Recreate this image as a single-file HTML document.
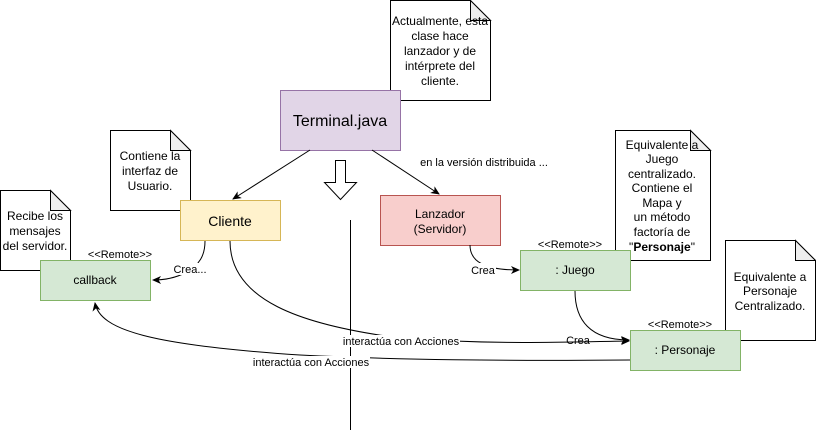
<!DOCTYPE html>
<html><head><meta charset="utf-8"><style>
body{margin:0;width:816px;height:433px;background:#fff;overflow:hidden;font-family:"Liberation Sans",sans-serif;}
</style></head><body>
<svg width="816" height="433" xmlns="http://www.w3.org/2000/svg" font-family="Liberation Sans, sans-serif">
<defs><marker id="a" markerWidth="10" markerHeight="10" refX="8" refY="4" orient="auto" markerUnits="userSpaceOnUse"><path d="M0,0 L9,4 L0,8 L2.5,4 Z" fill="#000"/></marker></defs>
<!-- notes -->
<g fill="#fff" stroke="#000" stroke-width="1">
<path d="M390.5,0.5 H470.5 L490.5,20.5 V100.5 H390.5 Z"/>
<path d="M110.5,130.5 H170.5 L190.5,150.5 V210.5 H110.5 Z"/>
<path d="M0.5,190.5 H50.5 L70.5,210.5 V270.5 H0.5 Z"/>
<path d="M615.5,130.5 H690.5 L710.5,150.5 V260.5 H615.5 Z"/>
<path d="M725.5,240.5 H795.5 L815.5,260.5 V340.5 H725.5 Z"/>
</g>
<g fill="#eee" stroke="#000">
<path d="M470.5,0.5 V20.5 H490.5 Z"/><path d="M170.5,130.5 V150.5 H190.5 Z"/><path d="M50.5,190.5 V210.5 H70.5 Z"/><path d="M690.5,130.5 V150.5 H710.5 Z"/><path d="M795.5,240.5 V260.5 H815.5 Z"/>
</g>
<g font-size="12" text-anchor="middle" fill="#000">
<text x="440" y="25">Actualmente, esta</text><text x="440" y="40">clase hace</text><text x="440" y="55">lanzador y de</text><text x="440" y="70">intérprete del</text><text x="440" y="85">cliente.</text>
<text x="150" y="160">Contiene la</text><text x="150" y="175">interfaz de</text><text x="150" y="190">Usuario.</text>
<text x="35" y="220">Recibe los</text><text x="35" y="235">mensajes</text><text x="35" y="250">del servidor.</text>
<text x="662" y="149">Equivalente a</text><text x="662" y="163">Juego</text><text x="662" y="178">centralizado.</text><text x="662" y="192">Contiene el</text><text x="662" y="207">Mapa y</text><text x="662" y="221">un método</text><text x="662" y="236">factoría de</text><text x="662" y="251">"<tspan font-weight="bold">Personaje</tspan>"</text>
<text x="770" y="281">Equivalente a</text><text x="770" y="295">Personaje</text><text x="770" y="310">Centralizado.</text>
</g>
<!-- boxes -->
<rect x="280.5" y="90.5" width="120" height="60" fill="#e1d5e7" stroke="#9673a6"/>
<text x="340" y="126" font-size="16" text-anchor="middle">Terminal.java</text>
<rect x="180.5" y="200.5" width="100" height="40" fill="#fff2cc" stroke="#d6b656"/>
<text x="230" y="226" font-size="14" text-anchor="middle">Cliente</text>
<rect x="380.5" y="195.5" width="120" height="50" fill="#f8cecc" stroke="#b85450"/>
<text x="440" y="218" font-size="12" text-anchor="middle">Lanzador</text><text x="440" y="233" font-size="12" text-anchor="middle">(Servidor)</text>
<rect x="520.5" y="250.5" width="110" height="40" fill="#d5e8d4" stroke="#82b366"/>
<text x="575" y="274" font-size="12" text-anchor="middle">: Juego</text>
<rect x="630.5" y="330.5" width="110" height="40" fill="#d5e8d4" stroke="#82b366"/>
<text x="685" y="354" font-size="12" text-anchor="middle">: Personaje</text>
<rect x="40.5" y="260.5" width="110" height="40" fill="#d5e8d4" stroke="#82b366"/>
<text x="95" y="284" font-size="12" text-anchor="middle">callback</text>
<g font-size="11" text-anchor="middle"><text x="120" y="258">&lt;&lt;Remote&gt;&gt;</text><text x="570" y="248">&lt;&lt;Remote&gt;&gt;</text><text x="680" y="328">&lt;&lt;Remote&gt;&gt;</text></g>
<!-- block arrow -->
<path d="M335.5,160.5 H345.5 V182.5 H356.5 L340.5,199.5 L324.5,182.5 H335.5 Z" fill="#fff" stroke="#000"/>
<line x1="350.5" y1="220" x2="350.5" y2="430" stroke="#000"/>
<!-- connectors -->
<g fill="none" stroke="#000" stroke-width="1">
<path d="M310,150 L233,199" marker-end="url(#a)"/>
<path d="M372,150 L439,194" marker-end="url(#a)"/>
<path d="M205,241 C205,255 200,265 185,273 C175,278 165,280 153,280" marker-end="url(#a)"/>
<path d="M230,241 C230,300 300,325 400,338 C500,345 560,342 629,341" marker-end="url(#a)"/>
<path d="M630,360 C500,361 400,360 300,355 C150,345 100,330 95,303" marker-end="url(#a)"/>
<path d="M470,245 C470,262 485,270 519,270" marker-end="url(#a)"/>
<path d="M575,291 C575,320 590,340 629,340" marker-end="url(#a)"/>
</g>
<g font-size="11" text-anchor="middle">
<rect x="172" y="263" width="36" height="12" fill="#fff"/><text x="190" y="273">Crea...</text>
<rect x="470" y="263" width="26" height="12" fill="#fff"/><text x="483" y="274">Crea</text>
<text x="578" y="344">Crea</text>
<rect x="342" y="335" width="118" height="12" fill="#fff"/><text x="401" y="345">interactúa con Acciones</text>
<rect x="252" y="356" width="118" height="12" fill="#fff"/><text x="311" y="366">interactúa con Acciones</text>
<text x="484" y="166">en la versión distribuida ...</text>
</g>
</svg>
</body></html>
